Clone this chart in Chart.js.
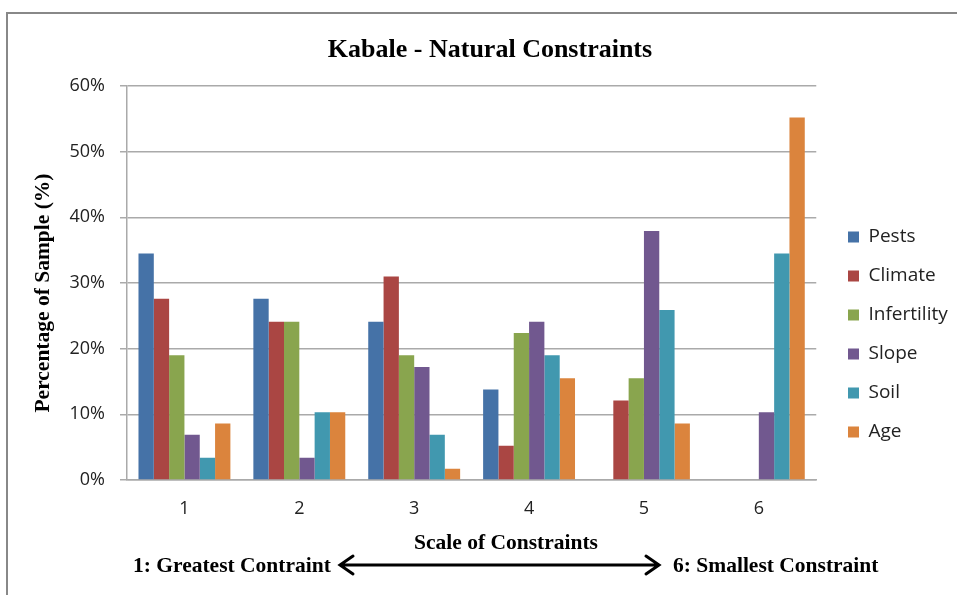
<!DOCTYPE html>
<html>
<head>
<meta charset="utf-8">
<title>Kabale - Natural Constraints</title>
<script src="https://cdn.jsdelivr.net/npm/chart.js@4.4.1/dist/chart.umd.min.js"></script>
<style>
  html, body { margin: 0; padding: 0; background: #ffffff; }
  canvas { display: block; }
</style>
</head>
<body>
<canvas id="constraintsChart" width="957" height="595"></canvas>
<script>
/* ---------------------------------------------------------------
   DATA (percent of sample)
   --------------------------------------------------------------- */
const categories  = ["1", "2", "3", "4", "5", "6"];
const pests       = [34.5, 27.6, 24.1, 13.8, 0, 0];
const climate     = [27.6, 24.1, 31.0, 5.2, 12.1, 0];
const infertility = [19.0, 24.1, 19.0, 22.4, 15.5, 0];
const slope       = [6.9, 3.4, 17.2, 24.1, 37.9, 10.3];
const soil        = [3.4, 10.3, 6.9, 19.0, 25.9, 34.5];
const age         = [8.6, 10.3, 1.7, 15.5, 8.6, 55.2];
const yTicks      = [0, 10, 20, 30, 40, 50, 60];

const SERIF = '"Liberation Serif", "Times New Roman", serif';
const SANS  = '"Open Sans", "Liberation Sans", sans-serif';

/* ---------------------------------------------------------------
   Extra drawing: frame, titles and the scale annotation
   --------------------------------------------------------------- */
const decorations = {
  id: "decorations",
  afterLayout(chart) {
    // move legend column to where Excel put it
    const lg = chart.legend;
    if (!lg) return;
    const w = lg.width, h = lg.height;
    lg.left = 828;
    lg.right = lg.left + w;
    lg.top = 207.5;
    lg.bottom = lg.top + h;
  },
  beforeDraw(chart) {
    const ctx = chart.ctx;
    ctx.save();
    ctx.strokeStyle = "#888888";
    ctx.lineWidth = 2;
    ctx.beginPath();
    ctx.moveTo(7, 600);
    ctx.lineTo(7, 13);
    ctx.lineTo(960, 13);
    ctx.stroke();
    ctx.restore();
  },
  afterDraw(chart) {
    const ctx = chart.ctx;
    ctx.save();
    ctx.fillStyle = "#000000";
    ctx.textBaseline = "alphabetic";

    // chart title
    ctx.font = "bold 26px " + SERIF;
    ctx.textAlign = "center";
    ctx.fillText("Kabale - Natural Constraints", 490, 57);

    // axis titles
    ctx.font = "bold 21.5px " + SERIF;
    ctx.fillText("Scale of Constraints", 506, 549);

    ctx.save();
    ctx.translate(43, 293);
    ctx.rotate(-Math.PI / 2);
    ctx.textBaseline = "middle";
    ctx.fillText("Percentage of Sample (%)", 0, 0);
    ctx.restore();

    // annotation under the axis
    ctx.textAlign = "left";
    ctx.fillText("1: Greatest Contraint", 133, 572);
    ctx.fillText("6: Smallest Constraint", 673, 572);

    // double arrow
    const x1 = 340, x2 = 659, y = 565;
    ctx.strokeStyle = "#000000";
    ctx.lineWidth = 3;
    ctx.lineCap = "round";
    ctx.beginPath();
    ctx.moveTo(x1 + 2, y);
    ctx.lineTo(x2 - 2, y);
    ctx.moveTo(x1 + 13, y - 9);
    ctx.lineTo(x1, y);
    ctx.lineTo(x1 + 13, y + 9);
    ctx.moveTo(x2 - 13, y - 9);
    ctx.lineTo(x2, y);
    ctx.lineTo(x2 - 13, y + 9);
    ctx.stroke();

    ctx.restore();
  }
};

/* ---------------------------------------------------------------
   BAR CHART
   --------------------------------------------------------------- */
function series(label, data, color) {
  return {
    label,
    data,
    backgroundColor: color,
    borderWidth: 0,
    categoryPercentage: 0.8,
    barPercentage: 1.0
  };
}

const ctx = document.getElementById("constraintsChart").getContext("2d");

new Chart(ctx, {
  type: "bar",
  data: {
    labels: categories,
    datasets: [
      series("Pests", pests, "#4572A7"),
      series("Climate", climate, "#AA4643"),
      series("Infertility", infertility, "#89A54E"),
      series("Slope", slope, "#71588F"),
      series("Soil", soil, "#4198AF"),
      series("Age", age, "#DB843D")
    ]
  },
  options: {
    responsive: false,
    animation: false,
    layout: {
      padding: { top: 86, right: 11, bottom: 0, left: 0 }
    },
    plugins: {
      title: { display: false },
      tooltip: { enabled: false },
      legend: {
        display: true,
        position: "right",
        align: "start",
        fullSize: false,
        labels: {
          boxWidth: 11,
          boxHeight: 11,
          padding: 20,
          color: "#222222",
          font: { family: SANS, size: 19 }
        }
      }
    },
    scales: {
      x: {
        grid: { display: false, drawTicks: false },
        border: { display: true, color: "#aaaaaa", width: 1.5 },
        ticks: {
          padding: 18,
          color: "#222222",
          font: { family: SANS, size: 18 }
        },
        afterFit(scale) { scale.height = 115; }
      },
      y: {
        min: 0,
        max: 60,
        afterBuildTicks(scale) {
          scale.ticks = yTicks.map(v => ({ value: v }));
        },
        grid: {
          color: "#aaaaaa",
          lineWidth: 1.5,
          drawTicks: true,
          tickLength: 7
        },
        border: { display: true, color: "#aaaaaa", width: 1.5 },
        ticks: {
          padding: 15,
          color: "#222222",
          font: { family: SANS, size: 18 },
          callback: v => v + "%"
        },
        afterFit(scale) { scale.width = 127; }
      }
    }
  },
  plugins: [decorations]
});
</script>
</body>
</html>
